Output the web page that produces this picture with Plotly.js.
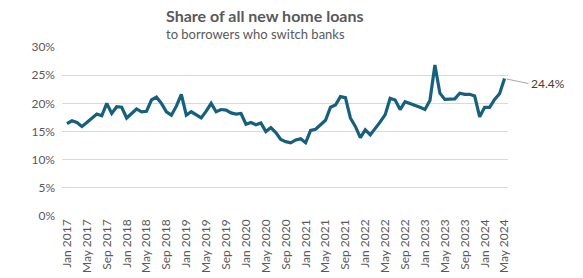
<!DOCTYPE html>
<html>
<head>
<meta charset="utf-8">
<script src="https://cdn.plot.ly/plotly-3.0.1.min.js"></script>
<style>html,body{margin:0;padding:0;background:#fff;}#chart{width:583px;height:278px;}</style>
</head>
<body>
<div id="chart"></div>
<script>
var monthNames = ["Jan","Feb","Mar","Apr","May","Jun","Jul","Aug","Sep","Oct","Nov","Dec"];
var months = [];
for (var y = 2017; y <= 2024; y++) {
  for (var m = 0; m < 12; m++) {
    if (y === 2024 && m > 4) break;
    months.push(monthNames[m] + " " + y);
  }
}
var switchShare = [
  16.4, 16.9, 16.6, 15.9, 16.6, 17.3, 18.1, 17.8, 20.0, 18.2, 19.4, 19.3,
  17.4, 18.2, 19.0, 18.5, 18.6, 20.6, 21.1, 20.0, 18.5, 17.9, 19.5, 21.6,
  17.9, 18.5, 17.9, 17.4, 18.6, 20.0, 18.5, 18.9, 18.8, 18.3, 18.1, 18.2,
  16.3, 16.6, 16.2, 16.5, 15.0, 15.7, 14.8, 13.6, 13.2, 13.0, 13.5, 13.7,
  13.0, 15.2, 15.4, 16.3, 17.0, 19.3, 19.7, 21.2, 21.0, 17.4, 15.9, 13.9,
  15.3, 14.4, 15.5, 16.7, 18.0, 20.9, 20.6, 18.9, 20.3, 20.0, 19.7, 19.3,
  18.9, 20.5, 26.8, 21.8, 20.7, 20.8, 20.8, 21.8, 21.6, 21.6, 21.3, 17.6,
  19.3, 19.3, 20.7, 21.7, 24.4
];
var tickLabels = months.filter(function(_, i){ return i % 4 === 0; });
var yTicks = [0, 5, 10, 15, 20, 25, 30];
var yTickText = yTicks.map(function(v){ return v + "%"; });
var lastLabel = "24.4%";

var fontFam = "Lato, 'Open Sans', sans-serif";
var trace = {
  x: months, y: switchShare, type: "scatter", mode: "lines",
  line: {color: "#17607d", width: 3.2}, hoverinfo: "x+y"
};
var layout = {
  width: 583, height: 278,
  margin: {l: 62, r: 75, t: 47, b: 62},
  paper_bgcolor: "#fff", plot_bgcolor: "#fff",
  showlegend: false,
  font: {family: fontFam, size: 12, color: "#595959"},
  xaxis: {
    type: "category", range: [-1.0, 88.7],
    tickmode: "array", tickvals: tickLabels, ticktext: tickLabels,
    tickangle: -90, showgrid: false, zeroline: false, showline: false,
    ticks: "", automargin: false, tickfont: {family: fontFam, size: 12, color: "#595959"}
  },
  yaxis: {
    range: [0, 30], tickvals: yTicks, ticktext: yTickText,
    showgrid: true, gridcolor: "#d9d9d9", gridwidth: 1, zeroline: false,
    showline: false, ticks: "", automargin: false, ticklabelstandoff: 6,
    tickfont: {family: fontFam, size: 12, color: "#595959"}
  },
  annotations: [
    {xref: "paper", yref: "paper", x: (164-62)/446, y: (216-16)/169, xanchor: "left", yanchor: "middle",
     text: "<b>Share of all new home loans</b>", showarrow: false,
     font: {family: fontFam, size: 16, color: "#595959"}},
    {xref: "paper", yref: "paper", x: (164-62)/446, y: (216-34)/169, xanchor: "left", yanchor: "middle",
     text: "to borrowers who switch banks", showarrow: false,
     font: {family: fontFam, size: 13, color: "#595959"}},
    {x: months[months.length-1], y: switchShare[switchShare.length-1], xref: "x", yref: "y",
     text: lastLabel, showarrow: true, arrowhead: 0, arrowwidth: 1, arrowcolor: "#a6a6a6",
     ax: 24, ay: 5, xanchor: "left", yanchor: "middle", standoff: 2,
     font: {family: fontFam, size: 12, color: "#404040"}}
  ]
};
Plotly.newPlot("chart", [trace], layout, {displayModeBar: false, staticPlot: true});
</script>
</body>
</html>
